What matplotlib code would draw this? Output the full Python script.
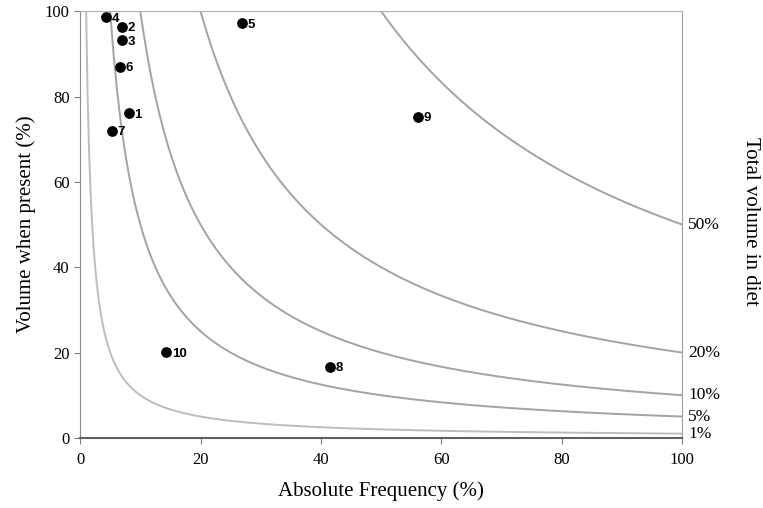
import numpy as np
import matplotlib.pyplot as plt

# prey items: absolute frequency (%) vs volume when present (%)
ITEM_IDS = ["1", "2", "3", "4", "5", "6", "7", "8", "9", "10"]
FREQ = [8.1, 7.0, 7.0, 4.3, 26.9, 6.6, 5.3, 41.5, 56.1, 14.3]
VOLUME = [76.1, 96.3, 93.2, 98.6, 97.2, 86.9, 71.9, 16.6, 75.2, 20.1]

# isopleths of total volume in diet (%)
LEVELS = [1, 5, 10, 20, 50]
LEVEL_LABELS = ["1%", "5%", "10%", "20%", "50%"]
LEVEL_COLORS = ["#bdbdbd", "#a3a3a3", "#a3a3a3", "#a3a3a3", "#a3a3a3"]

SERIF = "Liberation Serif"

fig = plt.figure(figsize=(7.63, 5.08), dpi=100)
ax = fig.add_axes([0.105, 0.138, 0.789, 0.840])

for lev, col in zip(LEVELS, LEVEL_COLORS):
    xs = np.linspace(lev, 100, 400)
    ax.plot(xs, 100.0 * lev / xs, color=col, lw=1.4, zorder=1)

ax.scatter(FREQ, VOLUME, s=45, color="black", zorder=3)
for i, lab in enumerate(ITEM_IDS):
    ax.annotate(lab, (FREQ[i], VOLUME[i]), xytext=(4, -1), textcoords="offset points",
                fontsize=9.5, fontweight="bold", family="Liberation Sans",
                va="center", ha="left")

ax.set_xlim(0, 100)
ax.set_ylim(0, 100)
ax.set_xticks([0, 20, 40, 60, 80, 100])
ax.set_yticks([0, 20, 40, 60, 80, 100])
for t in ax.get_xticklabels() + ax.get_yticklabels():
    t.set_fontfamily(SERIF)
    t.set_fontsize(12)
ax.tick_params(direction="out", length=4, color="#808080")
ax.tick_params(axis="x", pad=6)

ax.spines["left"].set_color("#8c8c8c")
ax.spines["top"].set_color("#b0b0b0")
ax.spines["right"].set_color("#a0a0a0")
ax.spines["bottom"].set_color("#606060")
ax.spines["bottom"].set_linewidth(1.5)

ax.set_xlabel("Absolute Frequency (%)", family=SERIF, fontsize=15, labelpad=10)
ax.set_ylabel("Volume when present (%)", family=SERIF, fontsize=15, labelpad=6)

for lev, lab in zip(LEVELS, LEVEL_LABELS):
    ax.text(101, lev, lab, family=SERIF, fontsize=12.5, va="center", ha="left")

fig.text(0.983, 0.565, "Total volume in diet", rotation=270, family=SERIF,
         fontsize=15, va="center", ha="center")

fig.savefig("out.png", dpi=100)
